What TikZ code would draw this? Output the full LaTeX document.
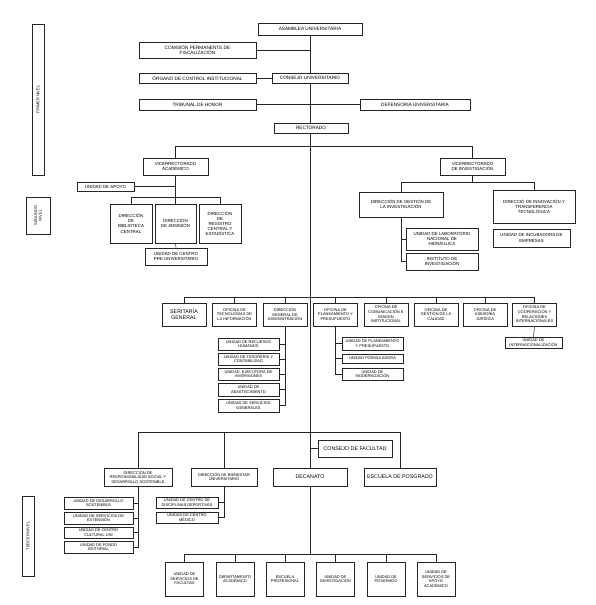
\documentclass[tikz,border=0pt]{standalone}
\usepackage{fontspec}
\setmainfont{Liberation Sans}
\usetikzlibrary{backgrounds}
\tikzset{
  box/.style={draw=black!85, line width=0.8pt, fill=white, align=center, inner sep=0pt, font=\fontsize{3.95}{4.6}\selectfont},
  big/.style={font=\fontsize{4.7}{5.4}\selectfont},
  mid/.style={font=\fontsize{4.4}{5.1}\selectfont},
  hdr/.style={font=\fontsize{5.3}{6.1}\selectfont},
  con/.style={draw=black!85, line width=0.55pt}
}
\newcommand\bx[7][]{%
  \pgfmathsetmacro\bxw{#5-#3}\pgfmathsetmacro\bxh{#6-#4}%
  \pgfmathsetmacro\bxcx{(#3+#5)/2}\pgfmathsetmacro\bxcy{(#4+#6)/2}%
  \node[box,minimum width=\bxw pt,minimum height=\bxh pt,#1] (#2) at (\bxcx,\bxcy) {#7};}
\begin{document}
\begin{tikzpicture}[x=1pt,y=-1pt]
\useasboundingbox (0,0) rectangle (595,605);
% level labels
\node[box,rotate=90,minimum width=151pt,minimum height=12pt] (lv1) at (38,99.5) {PRIMER NIVEL};
\node[box,rotate=90,minimum width=37pt,minimum height=24pt] (lv2) at (38,215.5) {SEGUNDO\\NIVEL};
\node[box,rotate=90,minimum width=80pt,minimum height=12pt] (lv3) at (28,536) {TERCER NIVEL};
% first level
\bx[big]{asamblea}{258}{23}{362}{35}{ASAMBLEA UNIVERSITARIA}
\bx[big]{comision}{139}{42}{256}{58}{COMISIÓN PERMANENTE DE\\FISCALIZACIÓN}
\bx[big]{organo}{139}{73}{256}{83}{ÓRGANO DE CONTROL INSTITUCIONAL}
\bx[big]{consejo}{272}{73}{348}{83}{CONSEJO UNIVERSITARIO}
\bx[big]{tribunal}{139}{99}{256}{110}{TRIBUNAL DE HONOR}
\bx[big]{defensoria}{360}{99}{470}{110}{DEFENSORÍA UNIVERSITARIA}
\bx[big]{rect}{274}{123}{348}{133}{RECTORADO}
% vicerrectorado academico
\bx[mid]{va}{143}{158}{208}{175}{VICERRECTORADO\\ACADÉMICO}
\bx[mid]{apoyo}{77}{182}{134}{191}{UNIDAD DE APOYO}
\bx[mid]{bib}{110}{204}{152}{243}{DIRECCIÓN\\DE\\BIBLIOTECA\\CENTRAL}
\bx[mid]{adm}{155}{204}{196}{243}{DIRECCIÓN\\DE ADMISIÓN}
\bx[mid]{reg}{199}{204}{241}{243}{DIRECCIÓN\\DE\\REGISTRO\\CENTRAL Y\\ESTADÍSTICA}
\bx[mid]{pre}{145}{248}{207}{265}{UNIDAD DE CENTRO\\PRE UNIVERSITARIO}
% vicerrectorado investigacion
\bx[mid]{vi}{440}{158}{505}{175}{VICERRECTORADO\\DE INVESTIGACIÓN}
\bx[mid]{dgi}{359}{192}{443}{217}{DIRECCIÓN DE GESTIÓN DE\\LA INVESTIGACIÓN}
\bx[mid]{dit}{493}{190}{575}{223}{DIRECCIÓ DE INNOVACIÓN Y\\TRANSFERENCIA\\TECNOLÓGICA}
\bx[mid]{lab}{406}{228}{478}{250}{UNIDAD DE LABORATORIO\\NACIONAL DE\\HIDRÁULICA}
\bx[mid]{inst}{406}{253}{478}{270}{INSTITUTO DE\\INVESTIGACIÓN}
\bx[mid]{inc}{493}{229}{570}{247}{UNIDAD DE INCUBADORA DE\\EMPRESAS}
% offices
\bx[hdr]{sg}{162}{303}{206}{326}{SERITARÍA\\GENERAL}
\bx{oti}{212.5}{303}{256.5}{326}{OFICINA DE\\TECNOLOGÍAS DE\\LA INFORMACIÓN}
\bx{dga}{263}{303}{307}{326}{DIRECCIÓN\\GENERAL DE\\ADMINISTRACIÓN}
\bx{opp}{313.5}{303}{357.5}{326}{OFICINA DE\\PLANEAMIENTO Y\\PRESUPUESTO}
\bx{oci}{364}{303}{408}{326}{OFICINA DE\\COMUNICACIÓN E\\IMAGEN\\INSTITUCIONAL}
\bx{ogc}{414}{303}{458}{326}{OFICINA DE\\GESTIÓN DE LA\\CALIDAD}
\bx{oaj}{463}{303}{507}{326}{OFICINA DE\\ASESORÍA\\JURÍDICA}
\bx{ori}{512.5}{303}{556.5}{326}{OFICINA DE\\COOPERACIÓN Y\\RELACIONES\\INTERNACIONALES}
\bx{intl}{505}{337}{562}{348}{UNIDAD DE\\INTERNACIONALIZACIÓN}
\bx{ga1}{218}{338}{279}{350}{UNIDAD DE RECURSOS\\HUMANOS}
\bx{ga2}{218}{353}{279}{365}{UNIDAD DE TESORERÍA Y\\CONTABILIDAD}
\bx{ga3}{218}{368}{279}{380}{UNIDAD \ EJECUTORA DE\\INVERSIONES}
\bx{ga4}{218}{383}{279}{396}{UNIDAD DE\\ABASTECIMIENTO}
\bx{ga5}{218}{399}{279}{412}{UNIDAD DE SERVICIOS\\GENERALES}
\bx{pp1}{342}{337}{403}{350}{UNIDAD DE PLANEAMIENTO\\Y PRESUPUESTO}
\bx{pp2}{342}{354}{403}{363}{UNIDAD FORMULADORA}
\bx{pp3}{342}{368}{403}{380}{UNIDAD DE\\MODERNIZACIÓN}
% third level
\bx[hdr]{cf}{318}{440}{392}{457}{CONSEJO DE FACULTAD}
\bx{drs}{104}{468}{172}{486}{DIRECCIÓN DE\\RESPONSABILIDAD SOCIAL Y\\DESARROLLO SOSTENIBLE}
\bx{dbu}{191}{468}{257}{486}{DIRECCIÓN DE BIENESTAR\\UNIVERSITARIO}
\bx[hdr]{dec}{273}{468}{347}{486}{DECANATO}
\bx[hdr]{posg}{364}{468}{436}{486}{ESCUELA DE POSGRADO}
\bx{rs1}{64}{497}{133}{509}{UNIDAD DE DESARROLLO\\SOSTENIBLE}
\bx{rs2}{64}{512}{133}{524}{UNIDAD DE SERVICIOS DE\\EXTENSIÓN}
\bx{rs3}{64}{527}{133}{538}{UNIDAD DE CENTRO\\CULTURAL UNI}
\bx{rs4}{64}{541}{133}{553}{UNIDAD DE FONDO\\EDITORIAL}
\bx{bu1}{156}{497}{218}{508}{UNIDAD DE CENTRO DE\\DISCIPLINAS DEPORTIVAS}
\bx{bu2}{156}{512}{218}{523}{UNIDAD DE CENTRO\\MÉDICO}
\bx{f1}{165.5}{562}{203.5}{596}{UNIDAD DE\\SERVICIOS DE\\FACULTAD}
\bx{f2}{216}{562}{254}{596}{DEPARTAMENTO\\ACADÉMICO}
\bx{f3}{266}{562}{304}{596}{ESCUELA\\PROFESIONAL}
\bx{f4}{316.5}{562}{354.5}{596}{UNIDAD DE\\INVESTIGACIÓN}
\bx{f5}{367}{562}{405}{596}{UNIDAD DE\\POSGRADO}
\bx{f6}{417}{562}{455}{596}{UNIDAD DE\\SERVICIOS DE\\APOYO\\ACADÉMICO}
\coordinate (bb) at (310,555);
% connectors
\begin{pgfonlayer}{background}
\fill[white] (0,0) rectangle (595,605);
\draw[con] (asamblea.south) -- (dec.north);
\draw[con] (dec.south) -- (bb);
\draw[con] (comision.east) -- (comision.east -| asamblea.south);
\draw[con] (organo.east) -- (consejo.west);
\draw[con] (tribunal.east) -- (defensoria.west);
\draw[con] (va.north) -- ++(0,-11) -| (vi.north);
\draw[con] (va.south) -- (adm.north);
\draw[con] (apoyo.east) -- (apoyo.east -| va.south);
\draw[con] (bib.north) -- ++(0,-6) -| (reg.north);
\draw[con] (adm.south) -- (pre.north);
\draw[con] (vi.south) -- ++(0,8);
\draw[con] (dgi.north) -- ++(0,-9) -| (dit.north);
\draw[con] (dgi.south) |- (inst.west);
\draw[con] (lab.west) -- (lab.west -| dgi.south);
\draw[con] (sg.north) -- ++(0,-5) -| (ori.north);
\foreach \n in {oti,dga,opp,oci,ogc,oaj} \draw[con] (\n.north) -- ++(0,-5);
\draw[con] (ori.south) -- (intl.north);
\draw[con] (dga.south) |- (ga5.east);
\foreach \n in {ga1,ga2,ga3,ga4} \draw[con] (\n.east) -- (\n.east -| dga.south);
\draw[con] (opp.south) |- (pp3.west);
\foreach \n in {pp1,pp2} \draw[con] (\n.west) -- (\n.west -| opp.south);
\draw[con] (drs.north) -- ++(0,-35) -| (posg.north);
\draw[con] (dbu.north) -- ++(0,-35);
\draw[con] (cf.west) -- (cf.west -| dec.north);
\draw[con] (drs.south) |- (rs4.east);
\foreach \n in {rs1,rs2,rs3} \draw[con] (\n.east) -- (\n.east -| drs.south);
\draw[con] (dbu.south) |- (bu2.east);
\draw[con] (bu1.east) -- (bu1.east -| dbu.south);
\draw[con] (f1.north) -- ++(0,-7) -| (f6.north);
\foreach \n in {f2,f3,f4,f5} \draw[con] (\n.north) -- ++(0,-7);
\end{pgfonlayer}
\end{tikzpicture}
\end{document}
